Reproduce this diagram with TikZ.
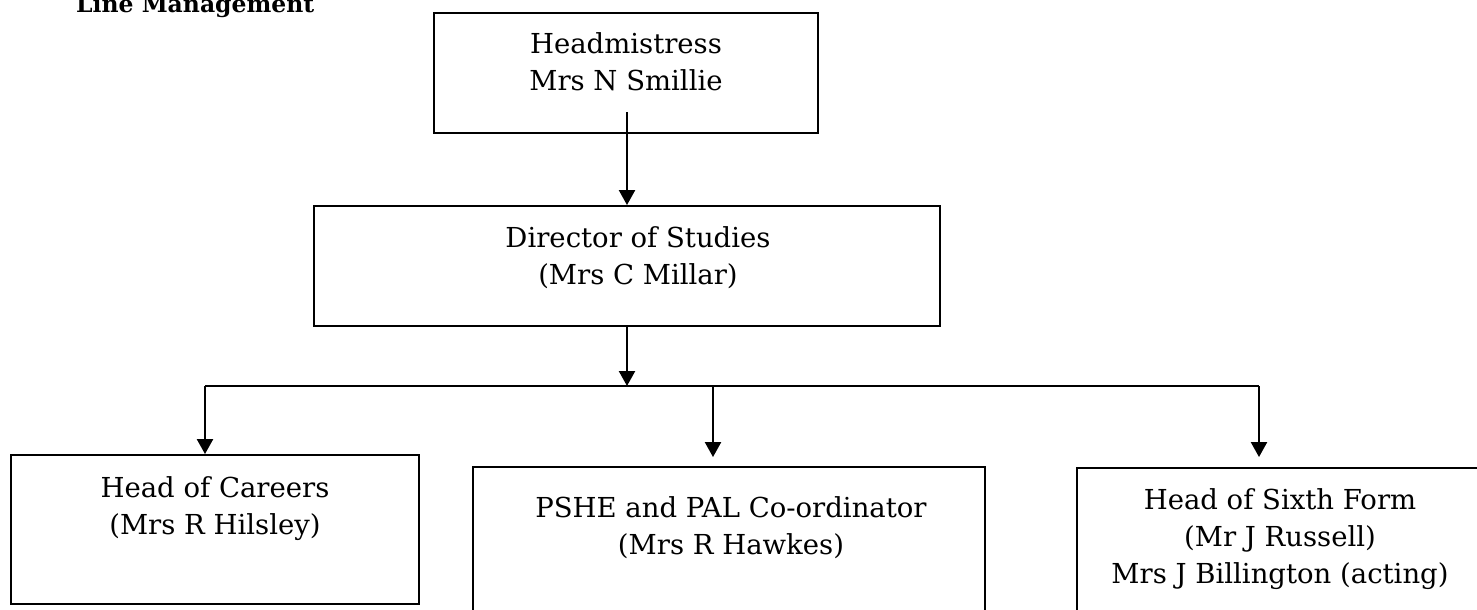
\documentclass[tikz,border=0pt]{standalone}
\usepackage{fontspec}
\setmainfont{DejaVu Serif}
\usetikzlibrary{arrows.meta}
\begin{document}
\begin{tikzpicture}[x=1pt,y=-1pt,
  box/.style={draw, line width=1.9pt, inner sep=0, rectangle},
  lbl/.style={anchor=north, align=center, inner sep=0, font=\fontsize{27.5}{37}\selectfont},
  conn/.style={line width=2.3pt},
  arr/.style={conn, -{Triangle[width=16pt,length=15pt]}}]
\useasboundingbox (0,0) rectangle (1477,610);
% title
\node[anchor=base west, inner sep=0] (title) at (76,13) {\resizebox{238pt}{!}{\bfseries Line Management}};
% boxes
\node[box, minimum width=384pt, minimum height=120pt] (head) at (626,73) {};
\node[box, minimum width=626pt, minimum height=120pt] (dir) at (627,266) {};
\node[box, minimum width=408pt, minimum height=149pt] (car) at (215,529.5) {};
\node[box, minimum width=512pt, minimum height=173pt] (pshe) at (729,553.5) {};
\node[box, minimum width=406pt, minimum height=172pt] (six) at (1280,554) {};
% labels
\node[lbl] (headT) at (626,32.5) {Headmistress\\Mrs N Smillie};
\node[lbl] (dirT) at (638,226.5) {Director of Studies\\(Mrs C Millar)};
\node[lbl] (carT) at (215,476) {Head of Careers\\(Mrs R Hilsley)};
\node[lbl] (psheT) at (731,496) {PSHE and PAL Co-ordinator\\(Mrs R Hawkes)};
\node[lbl] (sixT) at (1280,488) {Head of Sixth Form\\(Mr J Russell)\\Mrs J Billington (acting)};
% connectors
\coordinate (hs) at (627,112);
\draw[arr] (hs) -- (hs |- dir.north);
\coordinate (bus) at (627,386);
\coordinate (busL) at (205,386);
\coordinate (busM) at (713,386);
\coordinate (busR) at (1259,386);
\draw[arr] (dir.south -| bus) -- (bus);
\draw[conn] (busL) -- (busR);
\draw[arr] (busL) -- (busL |- car.north);
\draw[arr] (busM) -- ([yshift=9pt]busM |- pshe.north);
\draw[arr] (busR) -- ([yshift=10pt]busR |- six.north);
\end{tikzpicture}
\end{document}
